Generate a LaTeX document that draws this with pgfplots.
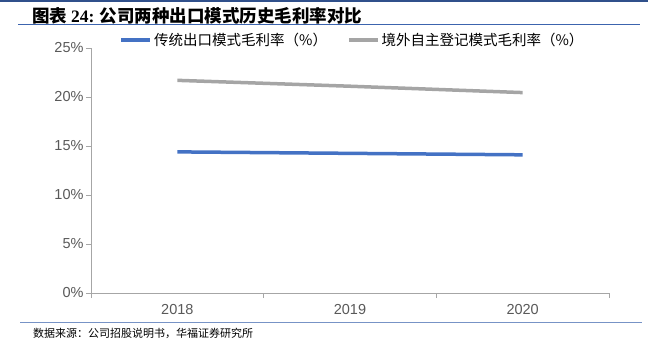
\documentclass[border=0pt]{standalone}
\usepackage{fontspec}
\setmainfont{Liberation Sans}
\newfontfamily\cjk{Noto Sans CJK SC}
\newfontfamily\titlenum{Liberation Serif}
\usepackage{pgfplots}
\pgfplotsset{compat=1.18}
\definecolor{cblue}{HTML}{4472C4}
\definecolor{cgray}{HTML}{A5A5A5}
\definecolor{axgray}{HTML}{A6A6A6}
\definecolor{lblgray}{HTML}{595959}
\definecolor{rulec}{HTML}{3C64AE}
\begin{document}
\begin{tikzpicture}[x=1pt,y=1pt]
\path[use as bounding box] (0pt,0pt) rectangle (657pt,-345pt);
\draw[color=rulec!80!black, line width=1.2pt] (0pt,-1pt) -- (648pt,-1pt);
\node[anchor=west, inner sep=0] at (32pt,-16pt) {\cjk\bfseries\fontsize{17.5}{17.5}\selectfont 图表 {\titlenum\bfseries 24:} 公司两种出口模式历史毛利率对比};
\draw[rulec, line width=0.8pt] (18pt,-24.5pt) -- (640pt,-24.5pt);
\draw[rulec!70, line width=0.8pt] (20pt,-322.5pt) -- (642pt,-322.5pt);
\node[anchor=west, inner sep=0] at (33pt,-333.5pt) {\cjk\fontsize{11}{11}\selectfont 数据来源：公司招股说明书，华福证券研究所};
\begin{axis}[
  at={(91pt,-293pt)}, anchor=south west, scale only axis,
  width=518pt, height=245pt,
  xmin=0, xmax=3, ymin=0, ymax=25,
  axis lines*=left,
  axis line style={axgray, line width=0.8pt, -},
  tick align=outside,
  major tick length=5pt, minor tick length=5pt,
  tick style={axgray, line width=0.8pt},
  xtick={0.5,1.5,2.5}, xticklabels={2018,2019,2020},
  major x tick style={draw=none},
  minor xtick={0,1,2,3},
  ytick={0,5,10,15,20,25},
  yticklabel={\pgfmathprintnumber{\tick}\%},
  /pgf/number format/assume math mode=true,
  ticklabel style={font=\fontsize{14.5}{14.5}\selectfont, text=lblgray},
  xticklabel style={yshift=-3pt},
  yticklabel style={xshift=1pt},
  legend columns=2,
  legend style={draw=none, fill=none, at={(0.055,1.033)}, anchor=west,
    font=\cjk\fontsize{14.5}{15}\selectfont, inner sep=0pt,
    /tikz/every even column/.append style={column sep=18pt}},
  legend image code/.code={\draw[#1] (0pt,0pt) -- (29pt,0pt);},
]
\addplot[cblue, line width=3.5pt] coordinates {(0.5,14.4) (1.5,14.25) (2.5,14.1)};
\addlegendentry{传统出口模式毛利率（\%）}
\addplot[cgray, line width=3.5pt] coordinates {(0.5,21.7) (1.5,21.1) (2.5,20.45)};
\addlegendentry{境外自主登记模式毛利率（\%）}
\end{axis}
\end{tikzpicture}
\end{document}
